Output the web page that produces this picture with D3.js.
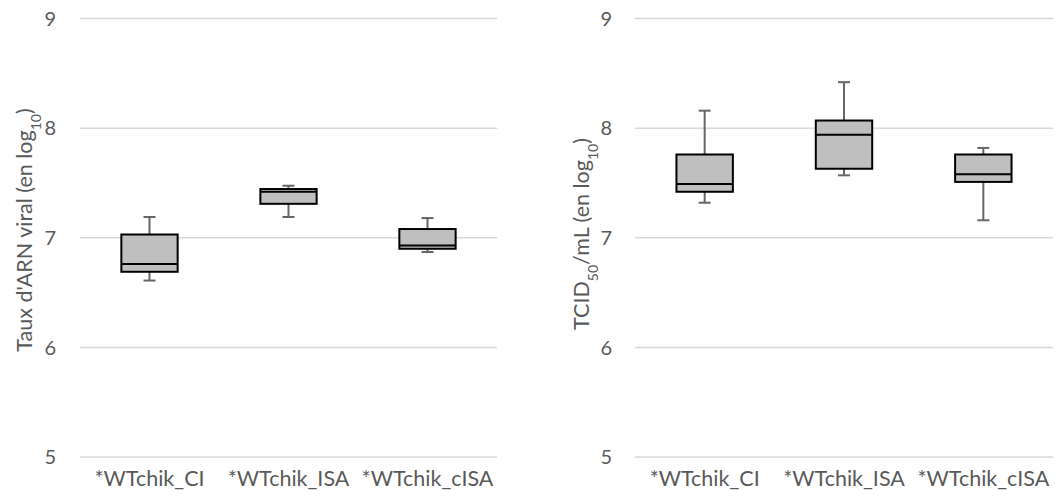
<!DOCTYPE html>
<html>
<head>
<meta charset="utf-8">
<script src="https://cdn.jsdelivr.net/npm/d3@7"></script>
<style>
  html, body { margin: 0; padding: 0; background: #fff; }
  svg { display: block; }
  text { font-family: Lato, "Open Sans", sans-serif; fill: #595959; }
</style>
</head>
<body>
<svg id="chart" width="1056" height="499"></svg>
<script>
const categories = ["*WTchik_CI", "*WTchik_ISA", "*WTchik_cISA"];
const yTicks = [5, 6, 7, 8, 9];

// Panel 1: viral RNA level (log10)
const rnaMin = [6.61, 7.19, 6.87];
const rnaQ1  = [6.69, 7.31, 6.90];
const rnaMed = [6.76, 7.42, 6.93];
const rnaQ3  = [7.03, 7.445, 7.08];
const rnaMax = [7.19, 7.475, 7.18];

// Panel 2: TCID50/mL (log10)
const tcidMin = [7.32, 7.57, 7.16];
const tcidQ1  = [7.42, 7.63, 7.51];
const tcidMed = [7.49, 7.94, 7.58];
const tcidQ3  = [7.76, 8.07, 7.76];
const tcidMax = [8.16, 8.42, 7.82];

const svg = d3.select("#chart");

function panel(cfg) {
  const g = svg.append("g");
  const y = d3.scaleLinear().domain([5, 9]).range([457, 18.6]);
  const x = d3.scaleBand().domain(categories).range([cfg.x0, cfg.x1]).paddingInner(0).paddingOuter(0);

  // gridlines
  g.selectAll("line.grid").data(yTicks).join("line")
    .attr("x1", cfg.x0).attr("x2", cfg.x1)
    .attr("y1", d => y(d)).attr("y2", d => y(d))
    .attr("stroke", "#d9d9d9").attr("stroke-width", 1.5);

  // y tick labels
  g.selectAll("text.ytick").data(yTicks).join("text")
    .attr("x", cfg.tickX).attr("y", d => y(d))
    .attr("dy", "0.36em")
    .attr("text-anchor", "end")
    .attr("font-size", 20)
    .text(d => d);

  // category labels
  g.selectAll("text.cat").data(categories).join("text")
    .attr("x", d => x(d) + x.bandwidth() / 2)
    .attr("y", 486)
    .attr("text-anchor", "middle")
    .attr("font-size", 21.5)
    .text(d => d);

  const boxW = x.bandwidth() * 0.405;
  const capW = 12;
  const data = categories.map((c, i) => ({
    c, min: cfg.min[i], q1: cfg.q1[i], med: cfg.med[i], q3: cfg.q3[i], max: cfg.max[i]
  }));

  const b = g.selectAll("g.box").data(data).join("g")
    .attr("transform", d => `translate(${x(d.c) + x.bandwidth() / 2},0)`);

  // whiskers
  b.append("line").attr("x1", 0).attr("x2", 0)
    .attr("y1", d => y(d.max)).attr("y2", d => y(d.q3))
    .attr("stroke", "#666").attr("stroke-width", 2);
  b.append("line").attr("x1", 0).attr("x2", 0)
    .attr("y1", d => y(d.q1)).attr("y2", d => y(d.min))
    .attr("stroke", "#666").attr("stroke-width", 2);
  b.append("line").attr("x1", -capW / 2).attr("x2", capW / 2)
    .attr("y1", d => y(d.max)).attr("y2", d => y(d.max))
    .attr("stroke", "#666").attr("stroke-width", 2);
  b.append("line").attr("x1", -capW / 2).attr("x2", capW / 2)
    .attr("y1", d => y(d.min)).attr("y2", d => y(d.min))
    .attr("stroke", "#666").attr("stroke-width", 2);

  // box
  b.append("rect")
    .attr("x", -boxW / 2).attr("width", boxW)
    .attr("y", d => y(d.q3)).attr("height", d => y(d.q1) - y(d.q3))
    .attr("fill", "#bfbfbf").attr("stroke", "#000").attr("stroke-width", 2);
  // median
  b.append("line").attr("x1", -boxW / 2).attr("x2", boxW / 2)
    .attr("y1", d => y(d.med)).attr("y2", d => y(d.med))
    .attr("stroke", "#000").attr("stroke-width", 2);

  // axis title
  const t = g.append("text")
    .attr("transform", `translate(${cfg.titleX},${cfg.titleY}) rotate(-90)`)
    .attr("text-anchor", "middle")
    .attr("font-size", 21.5);
  cfg.title.forEach(part => {
    const ts = t.append("tspan").text(part.t);
    if (part.sub) ts.attr("baseline-shift", "sub").attr("font-size", 14);
  });
}

panel({
  x0: 80, x1: 497, tickX: 56, titleX: 32, titleY: 230,
  min: rnaMin, q1: rnaQ1, med: rnaMed, q3: rnaQ3, max: rnaMax,
  title: [{t: "Taux d'ARN viral (en log"}, {t: "10", sub: true}, {t: ")"}]
});
panel({
  x0: 635, x1: 1053, tickX: 612, titleX: 589, titleY: 234,
  min: tcidMin, q1: tcidQ1, med: tcidMed, q3: tcidQ3, max: tcidMax,
  title: [{t: "TCID"}, {t: "50", sub: true}, {t: "/mL (en log"}, {t: "10", sub: true}, {t: ")"}]
});
</script>
</body>
</html>
